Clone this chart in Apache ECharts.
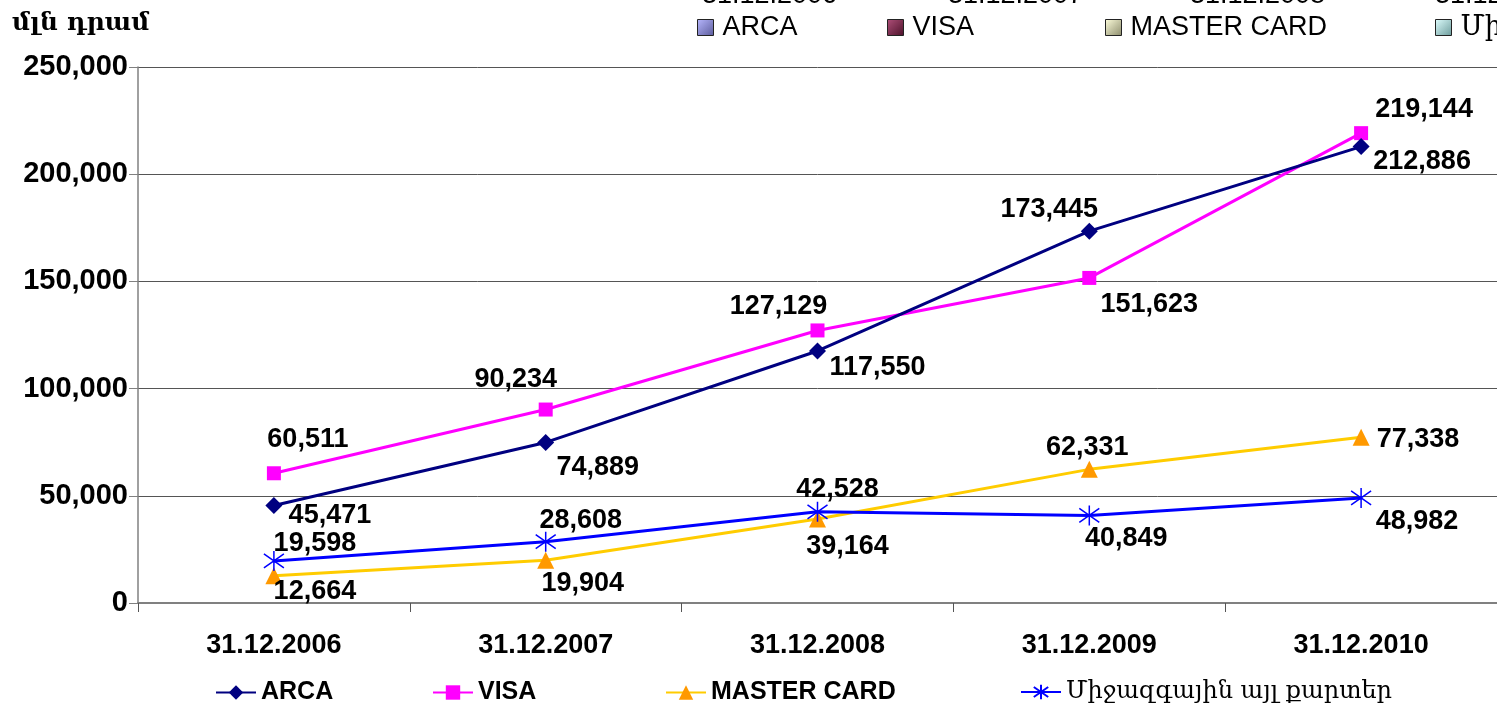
<!DOCTYPE html>
<html>
<head>
<meta charset="utf-8">
<script src="https://cdn.jsdelivr.net/npm/echarts@6/dist/echarts.min.js"></script>
<style>
  html, body { margin: 0; padding: 0; background: #fff; }
  #chart { width: 1497px; height: 710px; }
</style>
</head>
<body>
<div id="chart"></div>
<script>
// data
const dates = ['31.12.2006', '31.12.2007', '31.12.2008', '31.12.2009', '31.12.2010'];
const seriesNames = ['ARCA', 'VISA', 'MASTER CARD', 'Միջազգային այլ քարտեր'];
const arca = [45471, 74889, 117550, 173445, 212886];
const visa = [60511, 90234, 127129, 151623, 219144];
const master = [12664, 19904, 39164, 62331, 77338];
const other = [19598, 28608, 42528, 40849, 48982];
const yTicks = [0, 50000, 100000, 150000, 200000, 250000];

// where each value label sits relative to its marker
const labelOffsets = [
  [[56, 10], [52, 25], [60, 17], [-40, -22], [61, 15]],
  [[34, -34], [-30, -30], [-39, -24], [60, 27], [63, -24]],
  [[41, 16], [37, 23], [30, 28], [-2, -22], [57, 2]],
  [[41, -17], [35, -21], [20, -22], [37, 23], [56, 24]]
];

const FONT = '"Liberation Sans", Arial, sans-serif';
const ARM = '"DejaVu Serif", "DejaVu Sans", serif';
const fmt = v => v.toLocaleString('en-US');

const chart = echarts.init(document.getElementById('chart'));

function mkData(values, idx) {
  return values.map((v, i) => ({
    value: v,
    label: { offset: labelOffsets[idx][i] }
  }));
}

const baseLabel = {
  show: true,
  position: 'inside',
  color: '#000',
  fontFamily: FONT,
  fontWeight: 'bold',
  fontSize: 27,
  formatter: p => fmt(p.value)
};

const starPath = 'path://M10,0L10,20M3,3L17,17M3,17L17,3';

const series = [
  {
    name: seriesNames[0], type: 'line', data: mkData(arca, 0),
    symbol: 'diamond', symbolSize: 17,
    lineStyle: { color: '#000080', width: 3 },
    itemStyle: { color: '#000080' },
    label: baseLabel, z: 4
  },
  {
    name: seriesNames[1], type: 'line', data: mkData(visa, 1),
    symbol: 'rect', symbolSize: 14,
    lineStyle: { color: '#FF00FF', width: 3 },
    itemStyle: { color: '#FF00FF' },
    label: baseLabel, z: 3
  },
  {
    name: seriesNames[2], type: 'line', data: mkData(master, 2),
    symbol: 'triangle', symbolSize: 17,
    lineStyle: { color: '#FFCC00', width: 3 },
    itemStyle: { color: '#FF9900' },
    label: baseLabel, z: 2
  },
  {
    name: seriesNames[3], type: 'line', data: mkData(other, 3),
    symbol: starPath, symbolSize: 20,
    lineStyle: { color: '#0000FF', width: 3 },
    itemStyle: { color: '#0000FF', borderColor: '#0000FF', borderWidth: 1.5 },
    label: baseLabel, z: 5
  }
];

// pastel boxes of the cut-off legend at the top
const boxColors = [
  ['#B8B8FF', '#5A5A9A'],
  ['#B0507A', '#4A1028'],
  ['#FFFFDD', '#8A8A6A'],
  ['#E0FFFF', '#6A9A9A']
];
const topLeft = [697, 887, 1105, 1435];
const bottomLeft = [215, 432, 665, 1020];

const legends = [];
seriesNames.forEach((n, i) => {
  legends.push({
    left: topLeft[i], top: 14, padding: 0,
    icon: 'rect', itemWidth: 16, itemHeight: 16, itemGap: 0,
    textStyle: { fontFamily: i === 3 ? ARM : FONT, fontSize: 27, color: '#000', padding: [0, 0, 0, 4] },
    data: [{
      name: n,
      itemStyle: {
        color: new echarts.graphic.LinearGradient(0, 0, 1, 1, [
          { offset: 0, color: boxColors[i][0] },
          { offset: 1, color: boxColors[i][1] }
        ]),
        borderColor: '#222', borderWidth: 1
      }
    }]
  });
  legends.push({
    left: bottomLeft[i], top: 680, padding: 0,
    itemWidth: 40, itemHeight: 18, itemGap: 0,
    textStyle: i === 3
      ? { fontFamily: ARM, fontSize: 24, color: '#000' }
      : { fontFamily: FONT, fontWeight: 'bold', fontSize: 25, color: '#000' },
    data: [n]
  });
});

const topDateX = [702, 948, 1190, 1435];

chart.setOption({
  animation: false,
  backgroundColor: '#fff',
  legend: legends,
  grid: { left: 138, right: -2, top: 67, bottom: 107 },
  xAxis: {
    type: 'category',
    data: dates,
    axisLine: { lineStyle: { color: '#808080', width: 2 } },
    axisTick: { show: true, length: 9, lineStyle: { color: '#555' } },
    axisLabel: {
      margin: 29, color: '#000', fontFamily: FONT, fontWeight: 'bold', fontSize: 27
    }
  },
  yAxis: {
    type: 'value',
    min: yTicks[0],
    max: yTicks[yTicks.length - 1],
    interval: yTicks[1] - yTicks[0],
    axisLine: { show: true, lineStyle: { color: '#808080', width: 1.5 } },
    axisTick: { show: true, length: 9, lineStyle: { color: '#808080' } },
    splitLine: { lineStyle: { color: '#555', width: 1 } },
    axisLabel: {
      margin: 10, color: '#000', fontFamily: FONT, fontWeight: 'bold', fontSize: 29,
      formatter: v => fmt(v)
    }
  },
  graphic: [
    {
      type: 'text', left: 12, top: 11,
      style: { text: 'մլն դրամ', font: 'bold 25px ' + ARM, fill: '#000' }
    }
  ].concat(topDateX.map((x, i) => ({
    type: 'text', x: x, y: 9,
    style: {
      text: dates[i], font: '27px ' + FONT, fill: '#000',
      verticalAlign: 'bottom'
    }
  }))),
  series: series
});
</script>
</body>
</html>
